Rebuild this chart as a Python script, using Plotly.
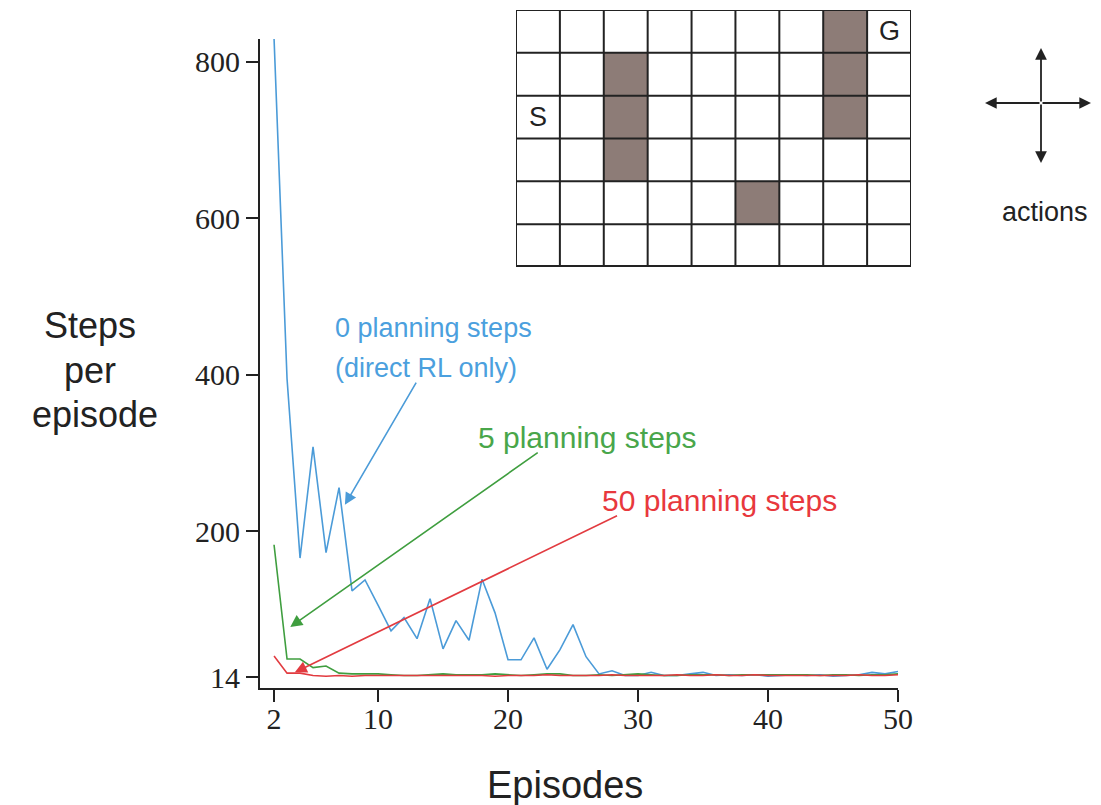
import plotly.graph_objects as go

# ---------------- data ----------------
episodes = list(range(2, 51))

steps_0_planning = [830, 395, 166, 308, 173, 256, 124, 138, 106, 73,
                    90, 63, 114, 50, 86, 61, 139, 96, 36, 36,
                    64, 24, 49, 81, 40, 18, 22, 16, 16, 20,
                    16, 16, 18, 20, 16, 17, 16, 17, 15, 16,
                    17, 16, 17, 15, 16, 17, 20, 18, 21]

steps_5_planning = [183, 37, 37, 26, 28, 19, 18, 18, 18, 17,
                    16, 16, 17, 18, 17, 17, 17, 18, 17, 16,
                    17, 18, 18, 16, 16, 17, 16, 17, 18, 17,
                    16, 16, 17, 17, 17, 16, 17, 17, 17, 17,
                    17, 17, 16, 17, 17, 16, 17, 17, 18]

steps_50_planning = [41, 19, 19, 16, 15, 16, 15, 16, 16, 16,
                     16, 16, 16, 16, 16, 16, 16, 15, 16, 16,
                     16, 17, 16, 16, 16, 16, 17, 16, 16, 16,
                     16, 17, 16, 16, 17, 16, 16, 17, 16, 16,
                     16, 16, 16, 16, 16, 17, 16, 16, 17]

x_ticks = [2, 10, 20, 30, 40, 50]
y_ticks = [14, 200, 400, 600, 800]

grid_rows, grid_cols = 6, 9
walls = [(1, 2), (2, 2), (3, 2), (0, 7), (1, 7), (2, 7), (4, 5)]
start_cell = (2, 0)
goal_cell = (0, 8)

# ---------------- styling ----------------
BLUE = "#4b9bd8"
GREEN = "#3f9e3f"
RED = "#e23b40"
BLUE_T = "#4ba0de"
GREEN_T = "#49a64a"
RED_T = "#e8383d"
INK = "#222222"
WALL = "#8d7c77"
SANS = "Liberation Sans, Arial, sans-serif"
SERIF = "Liberation Serif, Times New Roman, serif"

fig = go.Figure()

for ys, col in [(steps_0_planning, BLUE), (steps_5_planning, GREEN), (steps_50_planning, RED)]:
    fig.add_trace(go.Scatter(x=episodes, y=ys, mode="lines",
                             line=dict(color=col, width=1.6),
                             showlegend=False, hoverinfo="skip"))

# gridworld heatmap
z = [[0] * grid_cols for _ in range(grid_rows)]
for r, c in walls:
    z[r][c] = 1
fig.add_trace(go.Heatmap(z=z, x=list(range(grid_cols)), y=list(range(grid_rows)),
                         colorscale=[[0, "white"], [1, WALL]], zmin=0, zmax=1,
                         showscale=False, hoverinfo="skip",
                         xaxis="x2", yaxis="y2"))

shapes = []
for c in range(grid_cols + 1):
    shapes.append(dict(type="line", xref="x2", yref="y2",
                       x0=c - 0.5, x1=c - 0.5, y0=-0.5, y1=grid_rows - 0.5,
                       line=dict(color=INK, width=2)))
for r in range(grid_rows + 1):
    shapes.append(dict(type="line", xref="x2", yref="y2",
                       x0=-0.5, x1=grid_cols - 0.5, y0=r - 0.5, y1=r - 0.5,
                       line=dict(color=INK, width=4 if r == grid_rows else 2)))

annotations = []
annotations.append(dict(xref="x2", yref="y2", x=start_cell[1], y=start_cell[0], text="S",
                        showarrow=False, xanchor="center", yanchor="middle",
                        font=dict(family=SANS, size=27, color=INK)))
annotations.append(dict(xref="x2", yref="y2", x=goal_cell[1], y=goal_cell[0], text="G",
                        showarrow=False, xanchor="center", yanchor="middle",
                        font=dict(family=SANS, size=27, color=INK)))

# paper-coordinate helpers (screen px -> paper fraction; page has an 8px body offset)
def px(xs):
    return (xs - 260) / 660.0

def py(ys):
    return (688 - ys) / 680.0

def label(xs, ys, text, size, color, xanchor="center"):
    annotations.append(dict(xref="paper", yref="paper", x=px(xs), y=py(ys), text=text,
                            xanchor=xanchor, yanchor="middle", showarrow=False,
                            font=dict(family=SANS, size=size, color=color)))

label(333, 328, "0 planning steps", 27, BLUE_T, "left")
label(333, 368, "(direct RL only)", 27, BLUE_T, "left")
label(476, 437, "5 planning steps", 30, GREEN_T, "left")
label(600, 500, "50 planning steps", 30, RED_T, "left")

# pointer arrows (data coords)
for (hx, hy, tx, ty, col) in [(7.45, 234, 13.0, 392, BLUE),
                              (3.25, 78, 22.4, 302, GREEN),
                              (3.6, 20, 28.5, 221, RED)]:
    annotations.append(dict(xref="x", yref="y", axref="x", ayref="y",
                            x=hx, y=hy, ax=tx, ay=ty, text="", showarrow=True,
                            arrowhead=2, arrowsize=1.5, arrowwidth=1.6, arrowcolor=col))

# axis titles
label(90, 325, "Steps", 36, INK)
label(90, 370, "per", 36, INK)
label(95, 414, "episode", 36, INK)
label(565, 785, "Episodes", 38, INK)

# actions cross
for ax_, ay_, hx, hy in [(-50, 0, 1091, 103), (56, 0, 985, 103),
                         (0, 55, 1041, 48), (0, -60, 1041, 163)]:
    annotations.append(dict(xref="paper", yref="paper", x=px(hx), y=py(hy), ax=ax_, ay=ay_,
                            text="", showarrow=True, arrowhead=2, arrowsize=1.3,
                            arrowwidth=1.8, arrowcolor=INK))
label(1045, 212, "actions", 27, INK)

fig.update_layout(
    width=1101, height=805,
    margin=dict(l=252, r=189, t=0, b=125),
    paper_bgcolor="white", plot_bgcolor="white",
    showlegend=False,
    xaxis=dict(domain=[0, 638 / 660], range=[0.92, 50], tickvals=x_ticks,
               ticks="outside", ticklen=12, tickwidth=2, tickcolor=INK,
               ticklabelstandoff=-9,
               showline=True, linewidth=2, linecolor=INK,
               showgrid=False, zeroline=False,
               tickfont=dict(family=SERIF, size=30, color=INK)),
    yaxis=dict(domain=[0, 649 / 680], range=[0, 829], tickvals=y_ticks,
               ticks="outside", ticklen=12, tickwidth=2, tickcolor=INK,
               showline=True, linewidth=2, linecolor=INK,
               showgrid=False, zeroline=False,
               tickfont=dict(family=SERIF, size=30, color=INK)),
    xaxis2=dict(domain=[(516 - 260) / 660, (911 - 260) / 660], range=[-0.5, grid_cols - 0.5],
                visible=False, anchor="y2"),
    yaxis2=dict(domain=[(688 - 267) / 680, (688 - 10) / 680], range=[grid_rows - 0.5, -0.5],
                visible=False, anchor="x2"),
    shapes=shapes,
    annotations=annotations,
)

fig.write_html("out.html")
